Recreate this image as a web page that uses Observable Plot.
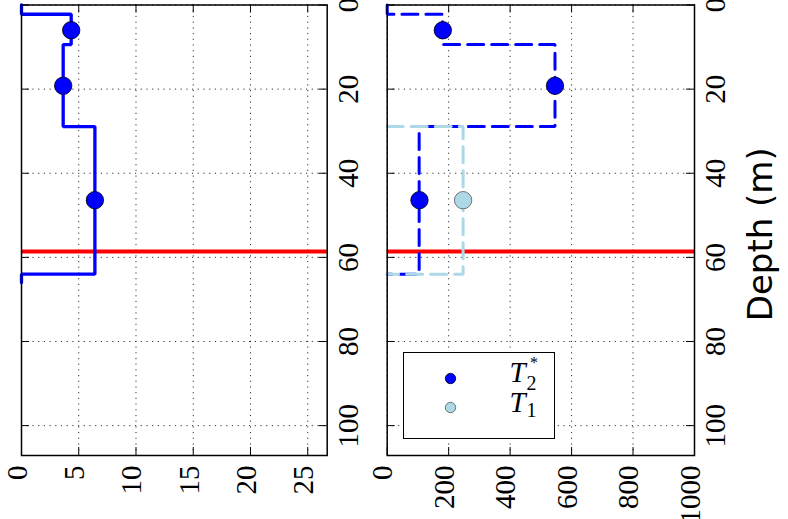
<!DOCTYPE html>
<html>
<head>
<meta charset="utf-8">
<script src="https://cdn.jsdelivr.net/npm/d3@7"></script>
<script src="https://cdn.jsdelivr.net/npm/@observablehq/plot@0.6"></script>
<style>
  html, body { margin: 0; padding: 0; background: white; }
  #wrap { position: relative; width: 788px; height: 519px; overflow: hidden; background: white; }
  #left, #right { position: absolute; top: 0; }
  #left { left: 0; }
  #right { left: 366px; }
  #legend { position: absolute; left: 403px; top: 352px; width: 152px; height: 87px; box-sizing: border-box;
            border: 1.5px solid black; background: white; font-family: "Liberation Serif", serif; }
  #legend .t { position: absolute; line-height: 1; white-space: nowrap; }
  #legend .s { position: absolute; line-height: 0.7; white-space: nowrap; }
</style>
</head>
<body>
<div id="wrap">
  <div id="left"></div>
  <div id="right"></div>
  <div id="legend">
    <svg width="149" height="84" style="position:absolute;left:0;top:0">
      <circle cx="46.5" cy="25.5" r="5.2" fill="#0000ff" stroke="black" stroke-width="0.8"></circle>
      <circle cx="46.5" cy="54.5" r="5.2" fill="#add8e6" stroke="#555" stroke-width="0.8"></circle>
    </svg>
    <span class="t" style="left:105.5px;top:5px;font-size:29px;font-style:italic">T</span>
    <span class="s" style="left:126px;top:4px;font-size:16px">*</span>
    <span class="s" style="left:122.5px;top:23px;font-size:20px">2</span>
    <span class="t" style="left:105.5px;top:35px;font-size:29px;font-style:italic">T</span>
    <span class="s" style="left:122.5px;top:50px;font-size:20px">1</span>
  </div>
</div>
<script>
// ---- data ----
const depthTicks = [0, 20, 40, 60, 80, 100];
const leftTicks = [0, 5, 10, 15, 20, 25];
const rightTicks = [0, 200, 400, 600, 800, 1000];

// step profile vertices (depth where value starts, value)
const leftStepDepths = [0, 2.2, 9.4, 28.9, 64, 66];
const leftStepValues = [0, 4.34, 3.64, 6.41, 0, 0];
const t2sStepDepths = [0, 2.2, 9.4, 28.9, 64];
const t2sStepValues = [0, 180, 546, 104, 0];
const t1StepDepths = [28.9, 28.9, 64];
const t1StepValues = [0, 247, 0];

// sample points
const sampleDepths = [6.0, 19.2, 46.4];
const leftSampleValues = [4.34, 3.64, 6.41];
const t2sSampleValues = [181, 546, 105];
const t1SampleDepths = [46.4];
const t1SampleValues = [247];

const redLineDepth = [58.6];

const toRows = (depths, values) => depths.map((d, i) => ({depth: d, value: values[i]}));

const H = 519, MT = 4.5, MB = 64;
const innerH = H - MT - MB;
const tickLen = 8;
const serif = "'Liberation Serif', 'DejaVu Serif', serif";

function panel({width, marginLeft, marginRight, xDomain, xTicks, lines, dots, extra = []}) {
  const innerW = width - marginLeft - marginRight;
  return Plot.plot({
    width, height: H, marginLeft, marginRight, marginTop: MT, marginBottom: MB,
    style: {fontFamily: serif, fontSize: "29px", background: "transparent", color: "black"},
    x: {domain: xDomain},
    y: {domain: [0, 107.1], reverse: true},
    marks: [
      Plot.gridX(xTicks, {stroke: "#333", strokeOpacity: 1, strokeWidth: 1, strokeDasharray: "1.2,4.5"}),
      Plot.gridY(depthTicks, {stroke: "#333", strokeOpacity: 1, strokeWidth: 1, strokeDasharray: "1.2,4.5"}),
      Plot.ruleY(redLineDepth, {stroke: "#ff0000", strokeWidth: 4}),
      ...lines,
      ...dots,
      // inward ticks
      Plot.tickX(xTicks, {x: d => d, insetTop: innerH - tickLen, stroke: "black"}),
      Plot.tickX(xTicks, {x: d => d, insetBottom: innerH - tickLen, stroke: "black"}),
      Plot.tickY(depthTicks, {y: d => d, insetLeft: innerW - tickLen, stroke: "black"}),
      Plot.tickY(depthTicks, {y: d => d, insetRight: innerW - tickLen, stroke: "black"}),
      Plot.axisX(xTicks, {anchor: "bottom", tickSize: 0, tickRotate: -90, textAnchor: "end", lineAnchor: "middle",
        tickPadding: 10, dx: -4, label: null, tickFormat: d3.format("d"), fontFamily: serif, fontSize: 29}),
      Plot.axisY(depthTicks, {anchor: "right", tickSize: 0, tickRotate: -90, textAnchor: "middle", lineAnchor: "top",
        tickPadding: 10, label: null, tickFormat: d3.format("d"), fontFamily: serif, fontSize: 29}),
      ...extra,
      Plot.frame({stroke: "black", strokeWidth: 1.5})
    ]
  });
}

const left = panel({
  width: 366, marginLeft: 21, marginRight: 39.3, xDomain: [0, 26.7], xTicks: leftTicks,
  lines: [
    Plot.line(toRows(leftStepDepths, leftStepValues), {x: "value", y: "depth", curve: "step-before", stroke: "#0000ff", strokeWidth: 3.3, strokeLinejoin: "miter"})
  ],
  dots: [
    Plot.dot(toRows(sampleDepths, leftSampleValues), {x: "value", y: "depth", r: 8.7, fill: "#0000ff", stroke: "black", strokeWidth: 0.8})
  ]
});

const right = panel({
  width: 422, marginLeft: 20.7, marginRight: 94, xDomain: [0, 1000], xTicks: rightTicks,
  lines: [
    Plot.line(toRows(t2sStepDepths, t2sStepValues), {x: "value", y: "depth", curve: "step-before", stroke: "#0000ff", strokeWidth: 3, strokeDasharray: "16,8", strokeLinejoin: "miter"}),
    Plot.line(toRows(t1StepDepths, t1StepValues), {x: "value", y: "depth", curve: "step-before", stroke: "#add8e6", strokeWidth: 3, strokeDasharray: "16,8", strokeLinejoin: "miter"})
  ],
  dots: [
    Plot.dot(toRows(sampleDepths, t2sSampleValues), {x: "value", y: "depth", r: 8.7, fill: "#0000ff", stroke: "black", strokeWidth: 0.8}),
    Plot.dot(toRows(t1SampleDepths, t1SampleValues), {x: "value", y: "depth", r: 8.7, fill: "#add8e6", stroke: "#555", strokeWidth: 0.8})
  ],
  extra: [
    Plot.text(["Depth (m)"], {text: d => d, frameAnchor: "right", rotate: -90, textAnchor: "middle", dx: 67, dy: 4,
      fontSize: 34, fontFamily: "'DejaVu Sans', sans-serif", lineAnchor: "middle", fill: "black"})
  ]
});

document.getElementById("left").appendChild(left);
document.getElementById("right").appendChild(right);
</script>
</body>
</html>
